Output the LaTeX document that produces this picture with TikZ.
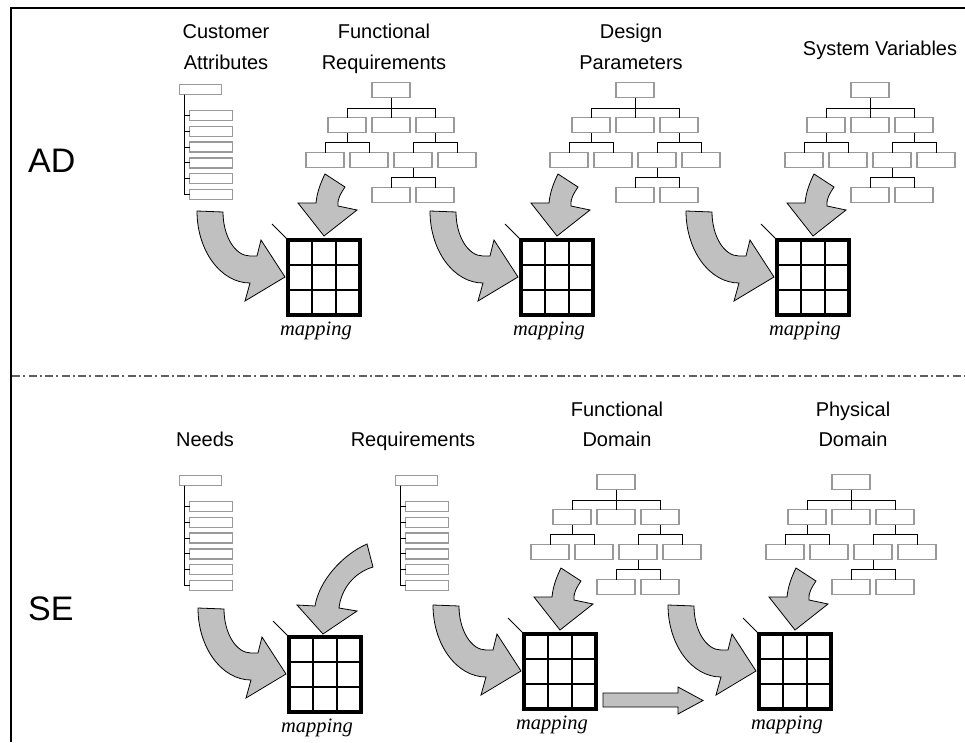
\documentclass[tikz,border=0pt]{standalone}
\usepackage{fontspec}
\setmainfont{Liberation Sans}
\newfontfamily\mapfont{Liberation Serif}
\usetikzlibrary{calc}
\definecolor{boxgray}{HTML}{999999}
\definecolor{fillgray}{HTML}{C0C0C0}
\definecolor{sepgray}{HTML}{606060}
\tikzset{
  tbox/.style={draw=boxgray, line width=1.3, minimum width=38, minimum height=15, inner sep=0, outer sep=0},
  lbox/.style={draw=boxgray, line width=1.3, minimum width=42, minimum height=10, inner sep=0, outer sep=0},
  conn/.style={draw=black, line width=1.0},
  matbox/.style={draw=black, line width=4, minimum width=72, minimum height=75, inner sep=0, outer sep=0},
  gridln/.style={draw=black, line width=1.4},
  barrow/.style={fill=fillgray, draw=black, line width=0.8, line join=miter},
  lbl/.style={font=\fontsize{20}{24}\selectfont, inner sep=0},
  bigl/.style={font=\fontsize{34}{40}\selectfont, inner sep=0},
  mapl/.style={font=\mapfont\itshape\fontsize{20.5}{24}\selectfont, inner sep=0}
}
\newcommand{\drawtree}[3]{%
\begin{scope}[shift={(#2,#3)}]
\node[tbox] (#1r) at (0,8) {};
\node[tbox] (#1a) at (-44,43) {};
\node[tbox] (#1b) at (0,43) {};
\node[tbox] (#1c) at (44,43) {};
\node[tbox] (#1d) at (-66,78) {};
\node[tbox] (#1e) at (-22,78) {};
\node[tbox] (#1f) at (22,78) {};
\node[tbox] (#1g) at (66,78) {};
\node[tbox] (#1h) at (0,113) {};
\node[tbox] (#1i) at (44,113) {};
\draw[conn] (#1r.south) -- (#1b.north);
\draw[conn] (#1a.north) -- ++(0,-9) -| (#1c.north);
\draw[conn] (#1a.south) -- ++(0,9);
\draw[conn] (#1d.north) -- ++(0,-10) -| (#1e.north);
\draw[conn] (#1c.south) -- ++(0,9);
\draw[conn] (#1f.north) -- ++(0,-10) -| (#1g.north);
\draw[conn] (#1f.south) -- ++(0,9);
\draw[conn] (#1h.north) -- ++(0,-10) -| (#1i.north);
\end{scope}}
\newcommand{\drawlist}[3]{%
\begin{scope}[shift={(#2,#3)}]
\node[lbox] (#1r) at (21.5,5.5) {};
\foreach \k/\t in {1/26,2/41.8,3/57.6,4/73.4,5/89.2,6/105}{
  \node[lbox, minimum width=43] (#1c\k) at (32,\t+5.5) {};
  \draw[conn] ([xshift=5]#1r.south west) |- (#1c\k.west);
}
\end{scope}}
\newcommand{\drawmat}[3]{%
\node[matbox] (#1) at (#2+38,#3+39.5) {};
\draw[gridln] ($(#1.north west)!0.3333!(#1.north east)$) -- ($(#1.south west)!0.3333!(#1.south east)$);
\draw[gridln] ($(#1.north west)!0.6667!(#1.north east)$) -- ($(#1.south west)!0.6667!(#1.south east)$);
\draw[gridln] ($(#1.north west)!0.3333!(#1.south west)$) -- ($(#1.north east)!0.3333!(#1.south east)$);
\draw[gridln] ($(#1.north west)!0.6667!(#1.south west)$) -- ($(#1.north east)!0.6667!(#1.south east)$);
\draw[line width=4] (#1.north west) rectangle (#1.south east);
\draw[conn] (#1.north west) -- ++(-16,-16);
\node[mapl, anchor=base] (#1l) at ($(#1.south)+(-8,20)$) {mapping};
}
\newcommand{\sidearrow}[1]{%
\begin{scope}[shift={($(#1.north west)+(-2,-2)$)}]
\path[barrow] (-89,-27) -- (-63,-26) .. controls (-63,-2) and (-51,18) .. (-36,18) -- (-29,18) -- (-25,2) -- (-1,39) -- (-41,63) -- (-36,45) .. controls (-65,45) and (-89,13) .. (-89,-27) -- cycle;
\end{scope}}
\newcommand{\toparrow}[1]{%
\begin{scope}[shift={($(#1.north west)+(-2,-2)$)}]
\path[barrow] (39,-64) -- (59,-51) .. controls (55,-45) and (51,-39) .. (52,-32) -- (71,-28) -- (38,-2) -- (12,-35) -- (30,-35) .. controls (31,-46) and (35,-56) .. (39,-64) -- cycle;
\end{scope}}
\begin{document}
\begin{tikzpicture}[x=1pt,y=-1pt]
\useasboundingbox (0,0) rectangle (965,742);
% frame
\draw[line width=2.2] (965,8) -- (10.6,8) -- (10.6,742);
% separator
\draw[sepgray, line width=1.3, dash pattern=on 8 off 3 on 2 off 3.5] (12,376) -- (965,376);
% section labels
\node[bigl, anchor=base west] (ad) at (28,172) {AD};
\node[bigl, anchor=base west] (se) at (28,620) {SE};
% top titles
\node[lbl, anchor=base] (t1a) at (226,38) {Customer};
\node[lbl, anchor=base] (t1b) at (226,69) {Attributes};
\node[lbl, anchor=base] (t2a) at (384,38) {Functional};
\node[lbl, anchor=base] (t2b) at (384,69) {Requirements};
\node[lbl, anchor=base] (t3a) at (631,38) {Design};
\node[lbl, anchor=base] (t3b) at (631,69) {Parameters};
\node[lbl, anchor=base] (t4) at (880,55) {System Variables};
% bottom titles
\node[lbl, anchor=base] (b1) at (205,446) {Needs};
\node[lbl, anchor=base] (b2) at (413,446) {Requirements};
\node[lbl, anchor=base] (b3a) at (617,416) {Functional};
\node[lbl, anchor=base] (b3b) at (617,446) {Domain};
\node[lbl, anchor=base] (b4a) at (853,416) {Physical};
\node[lbl, anchor=base] (b4b) at (853,446) {Domain};
% hierarchies
\drawlist{CA}{179}{84}
\drawtree{FR}{391}{82}
\drawtree{DP}{635}{82}
\drawtree{SV}{870}{82}
\drawlist{ND}{179}{475}
\drawlist{RQ}{395}{475}
\drawtree{FD}{616}{474}
\drawtree{PD}{851}{474}
% matrices
\drawmat{M1}{286}{238}
\drawmat{M2}{519}{238}
\drawmat{M3}{775}{238}
\drawmat{M4}{287}{635}
\drawmat{M5}{522}{632}
\drawmat{M6}{757}{632}
% block arrows
\sidearrow{M1}\toparrow{M1}
\sidearrow{M2}\toparrow{M2}
\sidearrow{M3}\toparrow{M3}
\sidearrow{M4}
\begin{scope}[shift={($(M4.north west)+(-2,-2)$)}]
\path[barrow] (80,-91) -- (86,-68) .. controls (66,-62) and (54,-45) .. (52,-27) -- (70,-24) -- (36,-1) -- (10,-30) -- (28,-29) .. controls (32,-54) and (55,-80) .. (80,-91) -- cycle;
\end{scope}
\sidearrow{M5}\toparrow{M5}
\sidearrow{M6}\toparrow{M6}
\begin{scope}[shift={($(M5.north west)+(-2,-2)$)}]
\path[barrow] (81,61) -- (156,61) -- (156,55) -- (181,68.5) -- (156,82) -- (156,75) -- (81,75) -- cycle;
\end{scope}
\end{tikzpicture}
\end{document}
